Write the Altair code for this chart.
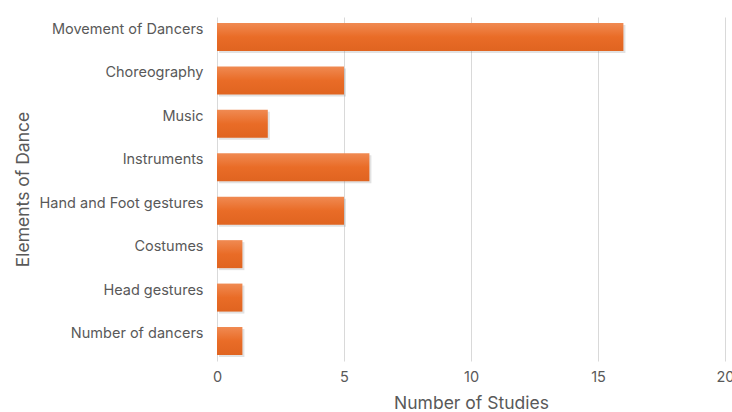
import altair as alt
import pandas as pd

categories = ["Movement of Dancers", "Choreography", "Music", "Instruments",
              "Hand and Foot gestures", "Costumes", "Head gestures", "Number of dancers"]
studies = [16, 5, 2, 6, 5, 1, 1, 1]
x_ticks = [0, 5, 10, 15, 20]

df = pd.DataFrame({"element": categories, "studies": studies})

FONT = "Inter"
GREY = "#595959"

y_enc = alt.Y("element:N", sort=categories, title="Elements of Dance",
              scale=alt.Scale(paddingInner=0.355, paddingOuter=0.138),
              axis=alt.Axis(labelFont=FONT, labelFontSize=14.5, labelColor=GREY,
                            labelPadding=14, labelOffset=-7, ticks=False, domain=False,
                            titleFont=FONT, titleFontSize=17.5, titleColor=GREY,
                            titleFontWeight="normal", titlePadding=7))
x_enc = alt.X("studies:Q", title="Number of Studies",
              scale=alt.Scale(domain=[0, 20], nice=False),
              axis=alt.Axis(values=x_ticks, labelFont=FONT, labelFontSize=14.5,
                            labelColor=GREY, labelPadding=9, labelFlush=False,
                            ticks=False, domain=False, grid=True, gridColor="#d9d9d9",
                            titleFont=FONT, titleFontSize=17.5, titleColor=GREY,
                            titleFontWeight="normal", titlePadding=11))

shadow = alt.Chart(df).mark_bar(color="#7a7a7a", opacity=0.22, xOffset=2, yOffset=2).encode(
    x=x_enc, y=y_enc)

bars = alt.Chart(df).mark_bar(
    color=alt.Gradient(
        gradient="linear",
        stops=[alt.GradientStop(color="#F08A52", offset=0),
               alt.GradientStop(color="#E96C27", offset=0.5),
               alt.GradientStop(color="#E06420", offset=1)],
        x1=0, x2=0, y1=0, y2=1),
).encode(x=x_enc, y=y_enc)

chart = (shadow + bars).properties(
    width=508, height=344,
    autosize=alt.AutoSizeParams(type="none"),
    padding={"left": 217, "top": 17, "right": 7, "bottom": 51},
    background="white",
).configure_view(stroke=None)

chart.save("out.html", embed_options={"renderer": "svg", "actions": False})
